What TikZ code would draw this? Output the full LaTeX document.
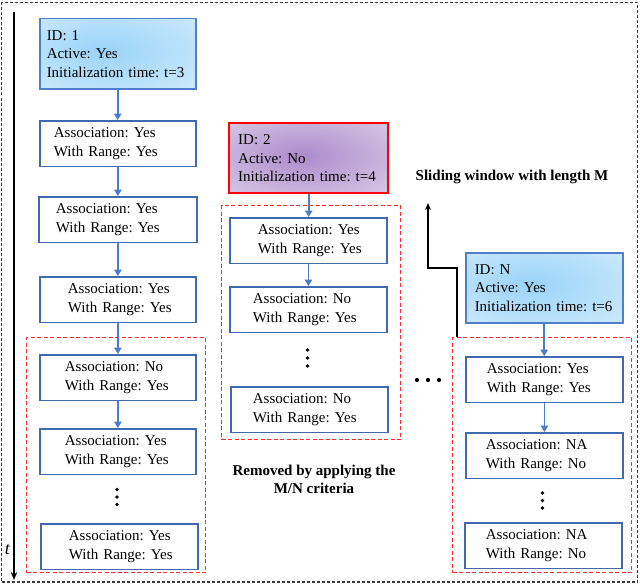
\documentclass[tikz,border=0pt]{standalone}
\usepackage{fontspec}
\setmainfont{Liberation Serif}
\usetikzlibrary{arrows.meta}
\hfuzz=30pt
\frenchspacing
\definecolor{boxblue}{HTML}{4169B0}
\definecolor{idblue}{HTML}{4F7FC8}
\definecolor{arrblue}{HTML}{4A7CCB}
\definecolor{framegray}{HTML}{3A3A3A}
\definecolor{dred}{HTML}{FF2A2A}
\definecolor{bIn}{HTML}{9AD3F8}
\definecolor{bOut}{HTML}{D6EEFD}
\definecolor{pIn}{HTML}{AC8BCB}
\definecolor{pOut}{HTML}{E0D6EC}
\pgfdeclareradialshading{bluesh}{\pgfpoint{-5bp}{3bp}}{color(0bp)=(bIn); color(45bp)=(bOut); color(60bp)=(bOut)}
\pgfdeclareradialshading{purplesh}{\pgfpoint{-2bp}{2bp}}{color(0bp)=(pIn); color(45bp)=(pOut); color(60bp)=(pOut)}
\newcommand\twoline[2]{\mbox{#1}\\\mbox{#2}}
\newcommand\threeline[3]{\mbox{#1}\\\mbox{#2}\\\mbox{#3}}
\tikzset{
  txt/.style={font=\fontsize{15}{18.5}\selectfont},
  boldtxt/.style={font=\fontsize{15}{18}\selectfont\bfseries},
  abox/.style 2 args={txt, draw=boxblue, line width=1.8pt, fill=white, anchor=north west,
    align=left, inner xsep=#1, text width=#2, inner ysep=0pt, minimum height=45.5pt},
  idbox/.style 2 args={txt, draw=idblue, line width=1.5pt, anchor=north west,
    align=left, inner xsep=#1, text width=#2, inner ysep=0pt, minimum height=70pt},
  redbox/.style={draw=dred, line width=1.3pt, dash pattern=on 4pt off 2.5pt, anchor=north west, inner sep=0pt},
  flow/.style={draw=arrblue, line width=1.6pt, -{Triangle[length=6.5pt,width=7.5pt]}},
  blk/.style={draw=black, line width=1.6pt, -{Stealth[length=8pt,width=6.5pt]}},
  dot/.style={fill=black},
}
\begin{document}
\begin{tikzpicture}[x=1pt,y=-1pt]
\useasboundingbox (0,0) rectangle (640,586);
% outer frame
\draw[framegray, line width=1.4pt, dash pattern=on 3pt off 2pt] (1.5,2.5) rectangle (637.5,582);
% time axis
\coordinate (ttop) at (14,12);
\coordinate (tbot) at (14,580);
\draw[blk] (ttop) -- (tbot);
\node[font=\fontsize{18}{18}\selectfont\itshape, inner sep=0pt] (tlab) at (7.5,550) {t};
% red dashed windows
\node[redbox, minimum width=179pt, minimum height=235pt] (R1) at (26,337) {};
\node[redbox, minimum width=179pt, minimum height=234pt] (R2) at (221,205) {};
\node[redbox, minimum width=179pt, minimum height=235pt] (R3) at (452,337) {};
% column 1
\node[idbox={7pt}{142pt}, shading=bluesh] (id1) at (39,18) {\threeline{ID: 1}{Active: Yes}{Initialization time: t=3}};
\node[abox={14pt}{128pt}, minimum width=156pt] (c1b1) at (39,120) {\twoline{Association: Yes}{With Range: Yes}};
\node[abox={17pt}{124pt}, minimum width=158pt] (c1b2) at (38,196) {\twoline{Association: Yes}{With Range: Yes}};
\node[abox={28pt}{100pt}, minimum width=156pt] (c1b3) at (39,276) {\twoline{Association: Yes}{With Range: Yes}};
\node[abox={25pt}{106pt}, minimum width=156pt] (c1b4) at (39,354) {\twoline{Association: No}{With Range: Yes}};
\node[abox={25pt}{106pt}, minimum width=156pt] (c1b5) at (39,428) {\twoline{Association: Yes}{With Range: Yes}};
\node[abox={28pt}{101pt}, minimum width=157pt] (c1b6) at (40,523) {\twoline{Association: Yes}{With Range: Yes}};
\foreach \yy in {489.5,497,504.5} \fill[dot] (117,\yy) circle (1.9pt);
% column 2
\node[idbox={9pt}{141pt}, shading=purplesh, draw=red, line width=2.4pt] (id2) at (228,122) {\threeline{ID: 2}{Active: No}{Initialization time: t=4}};
\node[abox={28pt}{101pt}, minimum width=157pt] (c2b1) at (229,217) {\twoline{Association: Yes}{With Range: Yes}};
\node[abox={23pt}{111pt}, minimum width=157pt] (c2b2) at (229,286) {\twoline{Association: No}{With Range: Yes}};
\node[abox={22pt}{113pt}, minimum width=157pt] (c2b3) at (230,386) {\twoline{Association: No}{With Range: Yes}};
\foreach \yy in {350,358,366} \fill[dot] (307.5,\yy) circle (1.9pt);
\node[boldtxt, align=center] (removed) at (314,479) {Removed by applying the\\M/N criteria};
% column 3
\node[idbox={9pt}{139pt}, shading=bluesh] (idN) at (465,252) {\threeline{ID: N}{Active: Yes}{Initialization time: t=6}};
\node[abox={21pt}{115pt}, minimum width=157pt] (c3b1) at (465,356) {\twoline{Association: Yes}{With Range: Yes}};
\node[abox={20pt}{117pt}, minimum width=157pt] (c3b2) at (465,432) {\twoline{Association: NA}{With Range: No}};
\node[abox={21pt}{115pt}, minimum width=157pt] (c3b3) at (464,522) {\twoline{Association: NA}{With Range: No}};
\foreach \yy in {493,500.5,508} \fill[dot] (542.5,\yy) circle (1.9pt);
\foreach \xx in {417,428,439} \fill[dot] (\xx,380) circle (2.1pt);
\node[boldtxt] (slide) at (512,177) {Sliding window with length M};
% flow arrows
\draw[flow] (id1) -- (id1 |- c1b1.north);
\draw[flow] (c1b1) -- (c1b1 |- c1b2.north);
\draw[flow] (c1b2) -- (c1b2 |- c1b3.north);
\draw[flow] (c1b3) -- (c1b3 |- c1b4.north);
\draw[flow] (c1b4) -- (c1b4 |- c1b5.north);
\draw[flow] (id2) -- (id2 |- c2b1.north);
\draw[flow] (c2b1) -- (c2b1 |- c2b2.north);
\draw[flow] (idN) -- (idN |- c3b1.north);
\draw[flow] (c3b1) -- (c3b1 |- c3b2.north);
% sliding window arrow
\coordinate (swstart) at ([xshift=5pt]R3.north west);
\coordinate (swend) at (428,203);
\draw[blk, line width=1.5pt, -{Stealth[length=7pt,width=6pt]}] (swstart) -- ++(0,-69) -| (swend);
\end{tikzpicture}
\end{document}
